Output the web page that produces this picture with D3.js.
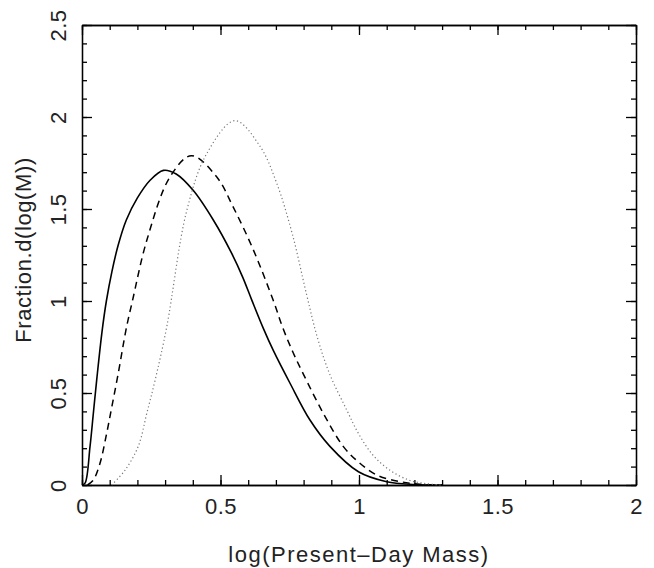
<!DOCTYPE html>
<html>
<head>
<meta charset="utf-8">
<script src="https://cdn.jsdelivr.net/npm/d3@7"></script>
<style>
  body { margin: 0; background: #fff; }
  .axis text { font-family: "Liberation Sans", Arial, sans-serif; font-size: 22px; fill: #222; }
  .axis path, .axis line { stroke: #000; stroke-width: 1.3px; }
  .title { font-family: "Liberation Sans", Arial, sans-serif; font-size: 22px; fill: #222; }
</style>
</head>
<body>
<div id="chart"></div>
<script>
// values
var xSolid = [0, 0.011, 0.029, 0.041, 0.053, 0.072, 0.088, 0.108, 0.13, 0.16, 0.2, 0.245, 0.294, 0.34, 0.402, 0.474, 0.54, 0.58, 0.613, 0.655, 0.691, 0.751, 0.823, 0.895, 0.998, 1.1, 1.2, 1.3];
var ySolid = [0, 0.01, 0.21, 0.39, 0.57, 0.83, 1.0, 1.16, 1.3, 1.44, 1.56, 1.655, 1.71, 1.69, 1.6, 1.44, 1.26, 1.13, 1.005, 0.85, 0.73, 0.553, 0.353, 0.21, 0.072, 0.018, 0.003, 0];

var xDashed = [0.02, 0.041, 0.065, 0.089, 0.107, 0.13, 0.161, 0.182, 0.234, 0.318, 0.395, 0.486, 0.546, 0.618, 0.69, 0.726, 0.762, 0.8, 0.871, 0.943, 0.998, 1.064, 1.15, 1.22, 1.3];
var yDashed = [0, 0.027, 0.118, 0.28, 0.42, 0.6, 0.86, 1.0, 1.33, 1.675, 1.79, 1.675, 1.51, 1.28, 1.005, 0.85, 0.72, 0.6, 0.39, 0.21, 0.125, 0.054, 0.018, 0.004, 0];

var xDotted = [0.107, 0.155, 0.203, 0.234, 0.264, 0.306, 0.378, 0.45, 0.552, 0.643, 0.703, 0.76, 0.81, 0.85, 0.895, 0.955, 0.998, 1.05, 1.11, 1.18, 1.24, 1.3];
var yDotted = [0, 0.08, 0.21, 0.39, 0.57, 0.86, 1.49, 1.8, 1.98, 1.84, 1.64, 1.36, 1.04, 0.8, 0.6, 0.41, 0.28, 0.163, 0.082, 0.027, 0.008, 0];

var xTicks = [0, 0.5, 1, 1.5, 2];
var yTicks = [0, 0.5, 1, 1.5, 2, 2.5];

// Set margins
var margin = { top: 25, right: 18, bottom: 83, left: 82 };
var width = 654 - margin.left - margin.right;
var height = 568 - margin.top - margin.bottom;

var svg = d3.select("#chart").append("svg")
  .attr("width", 654)
  .attr("height", 568)
  .append("g")
  .attr("transform", "translate(" + margin.left + "," + margin.top + ")");

var x = d3.scaleLinear().domain([0, 2]).range([0, width]);
var y = d3.scaleLinear().domain([0, 2.5]).range([height, 0]);

var fmt = d3.format("");

// minor ticks, all four sides, pointing in
svg.append("g").attr("class", "axis")
  .attr("transform", "translate(0," + height + ")")
  .call(d3.axisBottom(x).ticks(20).tickSize(-5).tickSizeOuter(0).tickFormat(""));
svg.append("g").attr("class", "axis")
  .call(d3.axisTop(x).ticks(20).tickSize(-5).tickSizeOuter(0).tickFormat(""));
svg.append("g").attr("class", "axis")
  .call(d3.axisLeft(y).ticks(25).tickSize(-5).tickSizeOuter(0).tickFormat(""));
svg.append("g").attr("class", "axis")
  .attr("transform", "translate(" + width + ",0)")
  .call(d3.axisRight(y).ticks(25).tickSize(-5).tickSizeOuter(0).tickFormat(""));

// major ticks
var xAxis = svg.append("g").attr("class", "axis")
  .attr("transform", "translate(0," + height + ")")
  .call(d3.axisBottom(x).tickValues(xTicks).tickSize(-10).tickSizeOuter(0).tickPadding(20).tickFormat(fmt));
xAxis.selectAll("text").attr("dy", "0.4em").style("letter-spacing", "0.5px");

svg.append("g").attr("class", "axis")
  .call(d3.axisTop(x).tickValues(xTicks).tickSize(-10).tickSizeOuter(0).tickFormat(""));

var yAxis = svg.append("g").attr("class", "axis")
  .call(d3.axisLeft(y).tickValues(yTicks).tickSize(-10).tickSizeOuter(0).tickFormat(fmt));
yAxis.selectAll("text")
  .attr("transform", "rotate(-90)")
  .attr("x", 0)
  .attr("y", -16)
  .attr("dy", 0)
  .style("text-anchor", "middle")
  .style("letter-spacing", "0.5px");

svg.append("g").attr("class", "axis")
  .attr("transform", "translate(" + width + ",0)")
  .call(d3.axisRight(y).tickValues(yTicks).tickSize(-10).tickSizeOuter(0).tickFormat(""));

// the curves
var line = d3.line()
  .x(function (d) { return x(d[0]); })
  .y(function (d) { return y(Math.max(0, d[1])); })
  .curve(d3.curveCatmullRom.alpha(0.5));

svg.append("path")
  .datum(d3.zip(xSolid, ySolid))
  .attr("fill", "none")
  .attr("stroke", "#000")
  .attr("stroke-width", 1.6)
  .attr("d", line);

svg.append("path")
  .datum(d3.zip(xDashed, yDashed))
  .attr("fill", "none")
  .attr("stroke", "#000")
  .attr("stroke-width", 1.5)
  .attr("stroke-dasharray", "7,5")
  .attr("d", line);

svg.append("path")
  .datum(d3.zip(xDotted, yDotted))
  .attr("fill", "none")
  .attr("stroke", "#777")
  .attr("stroke-width", 1.2)
  .attr("stroke-dasharray", "1.2,2.6")
  .attr("d", line);

// axis titles
svg.append("text")
  .attr("class", "title")
  .attr("x", width / 2)
  .attr("y", height + 77)
  .style("text-anchor", "middle")
  .style("letter-spacing", "1.5px")
  .text("log(Present\u2013Day Mass)");

svg.append("text")
  .attr("class", "title")
  .attr("transform", "translate(-51," + (height / 2 - 5) + ") rotate(-90)")
  .style("text-anchor", "middle")
  .style("letter-spacing", "0.6px")
  .text("Fraction.d(log(M))");
</script>
</body>
</html>
